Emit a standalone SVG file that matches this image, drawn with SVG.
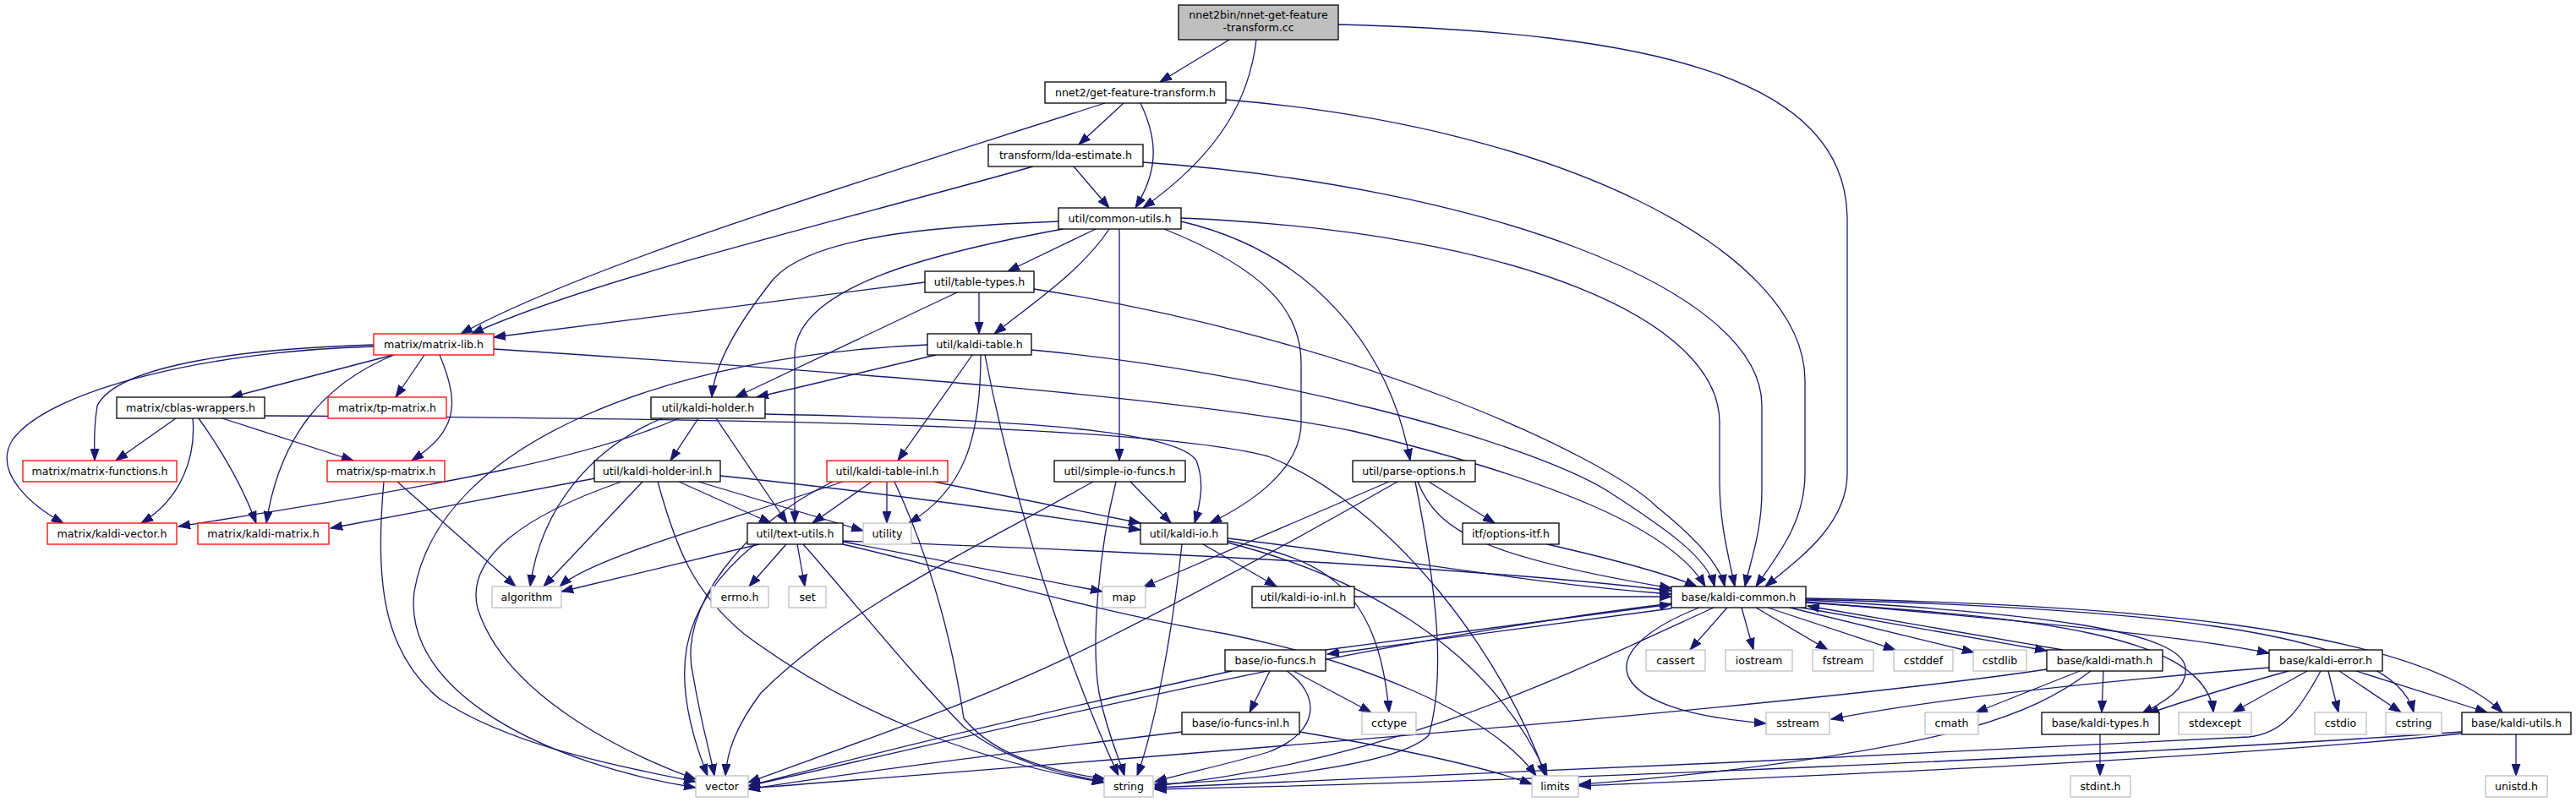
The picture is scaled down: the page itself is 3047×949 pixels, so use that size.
<svg xmlns="http://www.w3.org/2000/svg" width="3047" height="949" viewBox="0 0 3047 949">
<defs>
<style>
.n rect{fill:#fff;stroke:#000;stroke-width:1.3}
.n.r rect{stroke:#f00}
.n.g rect{stroke:#bfbfbf}
text{font-family:"DejaVu Sans","Liberation Sans",sans-serif;font-size:12.6px;text-anchor:middle;fill:#000}
#edges path{fill:none;stroke:#191970;stroke-width:1.3;marker-end:url(#a)}
</style>
<marker id="a" markerWidth="15" markerHeight="11" refX="14" refY="5.5" orient="auto" markerUnits="userSpaceOnUse"><path d="M0,0.5 L14,5.5 L0,10.5 z" fill="#191970" stroke="#191970" stroke-width="1"/></marker>
</defs>
<rect width="3047" height="949" fill="#fff"/>
<g id="edges">
<path d="M1454,47 L1372,97"/>
<path d="M1486,47 C1478,115 1445,180 1352,246"/>
<path d="M1583,29 C1950,38 2185,90 2185,260 L2185,560 C2185,620 2130,660 2088,694"/>
<path d="M1307,122 C1050,205 700,310 545,395"/>
<path d="M1329,122 L1276,171"/>
<path d="M1349,122 C1372,170 1368,205 1343,246"/>
<path d="M1450,118 C1850,150 2135,300 2135,450 L2135,560 C2135,620 2100,660 2077,694"/>
<path d="M1222,197 C1000,260 700,330 558,395"/>
<path d="M1270,197 L1312,246"/>
<path d="M1352,192 C1750,220 2084,340 2084,480 L2084,580 C2084,630 2070,665 2064,694"/>
<path d="M1296,271 L1192,321"/>
<path d="M1312,271 C1280,320 1220,360 1176,395"/>
<path d="M1324,271 L1324,545"/>
<path d="M1377,271 C1500,320 1539,370 1539,430 L1539,500 C1539,560 1470,600 1431,619"/>
<path d="M1397,262 C1560,300 1645,420 1668,545"/>
<path d="M1252,262 C1100,268 960,280 915,330 C875,380 845,430 842,470"/>
<path d="M1257,271 C1100,300 940,340 940,420 L940,619"/>
<path d="M1397,258 C1800,275 2034,380 2034,500 L2034,570 C2034,620 2045,660 2052,694"/>
<path d="M1094,334 L584,399"/>
<path d="M1158,346 L1158,395"/>
<path d="M1132,346 L870,470"/>
<path d="M1223,342 C1600,400 1900,540 1960,600 C2010,640 2035,670 2040,694"/>
<path d="M1107,420 L895,470"/>
<path d="M1150,420 L1062,545"/>
<path d="M1160,420 C1160,520 1140,580 1075,619"/>
<path d="M1165,420 C1200,600 1260,780 1323,918"/>
<path d="M1097,408 C800,420 520,520 490,700 C475,820 650,905 823,932"/>
<path d="M1220,414 C1500,440 1800,520 1900,580 C1970,625 2020,660 2028,694"/>
<path d="M465,420 L273,470"/>
<path d="M502,420 L468,470"/>
<path d="M520,420 C545,480 540,510 487,545"/>
<path d="M442,408 C300,412 140,430 115,480 C110,510 112,530 112,545"/>
<path d="M442,410 C250,415 60,460 15,520 C-10,560 40,600 75,619"/>
<path d="M466,420 C380,455 330,520 315,619"/>
<path d="M584,413 C1000,440 1400,470 1600,510 C1850,570 1980,630 2017,694"/>
<path d="M208,495 L137,545"/>
<path d="M228,495 C232,540 215,590 167,619"/>
<path d="M235,495 C260,530 285,570 303,619"/>
<path d="M263,495 L418,545"/>
<path d="M313,492 C800,495 1350,500 1500,540 C1650,600 1780,780 1828,918"/>
<path d="M470,570 L610,694"/>
<path d="M454,570 C444,680 450,770 520,827 C600,880 720,905 823,925"/>
<path d="M826,495 L793,545"/>
<path d="M847,495 L931,619"/>
<path d="M905,490 C1150,495 1390,505 1415,545 C1425,570 1420,595 1413,619"/>
<path d="M783,495 C700,530 640,600 627,694"/>
<path d="M803,495 C700,540 550,570 211,623"/>
<path d="M704,566 L391,625"/>
<path d="M760,570 L643,694"/>
<path d="M735,570 C620,610 550,660 565,720 C600,830 760,900 823,922"/>
<path d="M778,570 C800,650 820,700 880,750 C1000,840 1150,900 1306,926"/>
<path d="M803,570 L912,619"/>
<path d="M826,570 L1021,628"/>
<path d="M852,563 C1000,578 1200,605 1349,627"/>
<path d="M1049,570 L1049,619"/>
<path d="M1031,570 L961,619"/>
<path d="M997,570 C850,620 700,660 662,694"/>
<path d="M985,570 C880,620 800,720 820,800 C830,860 840,890 845,918"/>
<path d="M1058,570 C1100,660 1125,750 1140,850 C1180,900 1260,915 1308,922"/>
<path d="M1105,570 L1349,619"/>
<path d="M898,644 L664,700"/>
<path d="M930,644 L886,694"/>
<path d="M943,644 L952,694"/>
<path d="M997,641 L1304,700"/>
<path d="M893,644 C800,720 790,800 837,918"/>
<path d="M950,644 C1000,700 1080,800 1140,860 C1190,900 1250,915 1306,925"/>
<path d="M997,644 C1150,680 1300,725 1450,750 C1600,780 1760,840 1817,918"/>
<path d="M997,640 C1400,655 1750,672 1977,699"/>
<path d="M1337,570 L1385,619"/>
<path d="M1293,570 C1150,650 1000,720 900,820 C870,860 860,890 858,918"/>
<path d="M1320,570 C1300,650 1290,760 1300,820 C1310,870 1325,900 1330,918"/>
<path d="M1643,570 L1352,695"/>
<path d="M1653,570 C1530,640 1420,700 1300,760 C1150,835 980,890 885,926"/>
<path d="M1674,570 C1700,700 1710,800 1690,870 C1650,910 1450,925 1366,928"/>
<path d="M1690,570 L1768,619"/>
<path d="M1677,570 C1700,630 1760,660 1977,696"/>
<path d="M1830,644 C1900,660 1970,678 2007,694"/>
<path d="M1423,644 L1510,694"/>
<path d="M1452,637 C1650,660 1800,690 1977,703"/>
<path d="M1398,644 C1390,720 1370,850 1345,918"/>
<path d="M1452,642 C1600,680 1760,760 1830,918"/>
<path d="M1452,640 C1560,660 1630,690 1643,843"/>
<path d="M1602,706 L1977,706"/>
<path d="M2043,719 L1999,769"/>
<path d="M2060,719 L2074,769"/>
<path d="M2077,719 L2162,769"/>
<path d="M2091,719 L2242,769"/>
<path d="M2117,719 L2335,772"/>
<path d="M2125,718 L2421,770"/>
<path d="M2440,769 L2138,717"/>
<path d="M2136,712 C2400,735 2600,755 2684,773"/>
<path d="M1977,720 L1570,774"/>
<path d="M1568,769 L1977,715"/>
<path d="M2136,710 C2400,725 2580,745 2585,790 C2588,815 2560,830 2533,845"/>
<path d="M2136,708 C2500,715 2850,740 2960,843"/>
<path d="M2136,709 C2500,720 2830,740 2855,843"/>
<path d="M2136,713 C2400,730 2610,750 2618,843"/>
<path d="M2010,719 C1880,770 1890,840 2089,856"/>
<path d="M2027,719 C1850,800 1650,900 1366,930"/>
<path d="M1977,714 C1600,760 1200,860 885,930"/>
<path d="M2484,869 L2484,918"/>
<path d="M2976,869 L2976,918"/>
<path d="M2787,794 L2942,843"/>
<path d="M2767,794 L2840,843"/>
<path d="M2754,794 L2766,843"/>
<path d="M2729,794 L2641,843"/>
<path d="M2707,794 C2650,810 2580,830 2540,845"/>
<path d="M2684,790 C2500,805 2300,825 2166,851"/>
<path d="M2745,794 C2720,840 2700,868 2660,872 C2300,890 1700,920 1366,932"/>
<path d="M2460,794 L2337,843"/>
<path d="M2488,794 L2486,843"/>
<path d="M2473,794 C2400,850 2300,880 2040,912 C1950,922 1900,926 1868,928"/>
<path d="M2421,792 C2100,840 1300,900 885,933"/>
<path d="M2912,866 C2500,895 1800,925 1366,934"/>
<path d="M2912,868 C2600,900 2100,920 1868,930"/>
<path d="M1502,794 L1478,843"/>
<path d="M1530,794 L1622,843"/>
<path d="M1522,794 C1560,820 1565,865 1500,890 C1450,905 1400,915 1366,925"/>
<path d="M1457,794 C1200,850 1000,900 885,930"/>
<path d="M1398,866 C1200,890 1000,915 885,934"/>
<path d="M1537,866 C1650,885 1750,905 1812,928"/>
</g>
<g id="n0" class="n"><rect x="1394" y="6" width="189" height="41" style="fill:#bfbfbf"/><text x="1488.5" y="22">nnet2bin/nnet-get-feature</text><text x="1488.5" y="37">-transform.cc</text></g>
<g id="gft" class="n"><rect x="1236" y="97" width="214" height="25"/><text x="1343" y="114">nnet2/get-feature-transform.h</text></g>
<g id="lda" class="n"><rect x="1169" y="171" width="183" height="26"/><text x="1260.5" y="188">transform/lda-estimate.h</text></g>
<g id="cu" class="n"><rect x="1252" y="246" width="145" height="25"/><text x="1324.5" y="263">util/common-utils.h</text></g>
<g id="tt" class="n"><rect x="1094" y="321" width="129" height="25"/><text x="1158.5" y="338">util/table-types.h</text></g>
<g id="kt" class="n"><rect x="1097" y="395" width="123" height="25"/><text x="1158.5" y="412">util/kaldi-table.h</text></g>
<g id="ml" class="n r"><rect x="442" y="395" width="142" height="25"/><text x="513" y="412">matrix/matrix-lib.h</text></g>
<g id="tp" class="n r"><rect x="388" y="470" width="140" height="25"/><text x="458" y="487">matrix/tp-matrix.h</text></g>
<g id="cb" class="n"><rect x="138" y="470" width="175" height="25"/><text x="225.5" y="487">matrix/cblas-wrappers.h</text></g>
<g id="kh" class="n"><rect x="770" y="470" width="135" height="25"/><text x="837.5" y="487">util/kaldi-holder.h</text></g>
<g id="mf" class="n r"><rect x="27" y="545" width="182" height="25"/><text x="118" y="562">matrix/matrix-functions.h</text></g>
<g id="sp" class="n r"><rect x="387" y="545" width="139" height="25"/><text x="456.5" y="562">matrix/sp-matrix.h</text></g>
<g id="khi" class="n"><rect x="703" y="545" width="149" height="25"/><text x="777.5" y="562">util/kaldi-holder-inl.h</text></g>
<g id="kti" class="n r"><rect x="978" y="545" width="143" height="25"/><text x="1049.5" y="562">util/kaldi-table-inl.h</text></g>
<g id="sio" class="n"><rect x="1247" y="545" width="155" height="25"/><text x="1324.5" y="562">util/simple-io-funcs.h</text></g>
<g id="po" class="n"><rect x="1600" y="545" width="145" height="25"/><text x="1672.5" y="562">util/parse-options.h</text></g>
<g id="kv" class="n r"><rect x="56" y="619" width="153" height="25"/><text x="132.5" y="636">matrix/kaldi-vector.h</text></g>
<g id="km" class="n r"><rect x="234" y="619" width="155" height="25"/><text x="311.5" y="636">matrix/kaldi-matrix.h</text></g>
<g id="tu" class="n"><rect x="884" y="619" width="113" height="25"/><text x="940.5" y="636">util/text-utils.h</text></g>
<g id="ut" class="n g"><rect x="1021" y="619" width="57" height="25"/><text x="1049.5" y="636">utility</text></g>
<g id="kio" class="n"><rect x="1349" y="619" width="103" height="25"/><text x="1400.5" y="636">util/kaldi-io.h</text></g>
<g id="itf" class="n"><rect x="1730" y="619" width="114" height="25"/><text x="1787" y="636">itf/options-itf.h</text></g>
<g id="alg" class="n g"><rect x="582" y="694" width="82" height="25"/><text x="623" y="711">algorithm</text></g>
<g id="err" class="n g"><rect x="841" y="694" width="68" height="25"/><text x="875" y="711">errno.h</text></g>
<g id="set" class="n g"><rect x="933" y="694" width="44" height="25"/><text x="955" y="711">set</text></g>
<g id="map" class="n g"><rect x="1304" y="694" width="51" height="25"/><text x="1329.5" y="711">map</text></g>
<g id="kii" class="n"><rect x="1481" y="694" width="121" height="25"/><text x="1541.5" y="711">util/kaldi-io-inl.h</text></g>
<g id="kc" class="n"><rect x="1977" y="694" width="159" height="25"/><text x="2056.5" y="711">base/kaldi-common.h</text></g>
<g id="iof" class="n"><rect x="1449" y="769" width="119" height="25"/><text x="1508.5" y="786">base/io-funcs.h</text></g>
<g id="cas" class="n g"><rect x="1947" y="769" width="70" height="25"/><text x="1982" y="786">cassert</text></g>
<g id="ios" class="n g"><rect x="2041" y="769" width="79" height="25"/><text x="2080.5" y="786">iostream</text></g>
<g id="fst" class="n g"><rect x="2144" y="769" width="72" height="25"/><text x="2180" y="786">fstream</text></g>
<g id="cdf" class="n g"><rect x="2240" y="769" width="70" height="25"/><text x="2275" y="786">cstddef</text></g>
<g id="csl" class="n g"><rect x="2334" y="769" width="63" height="25"/><text x="2365.5" y="786">cstdlib</text></g>
<g id="kmath" class="n"><rect x="2421" y="769" width="137" height="25"/><text x="2489.5" y="786">base/kaldi-math.h</text></g>
<g id="ke" class="n"><rect x="2684" y="769" width="134" height="25"/><text x="2751" y="786">base/kaldi-error.h</text></g>
<g id="iofi" class="n"><rect x="1398" y="843" width="139" height="26"/><text x="1467.5" y="860">base/io-funcs-inl.h</text></g>
<g id="cct" class="n g"><rect x="1611" y="843" width="64" height="26"/><text x="1643" y="860">cctype</text></g>
<g id="sst" class="n g"><rect x="2089" y="843" width="75" height="26"/><text x="2126.5" y="860">sstream</text></g>
<g id="cma" class="n g"><rect x="2277" y="843" width="63" height="26"/><text x="2308.5" y="860">cmath</text></g>
<g id="kty" class="n"><rect x="2415" y="843" width="139" height="26"/><text x="2484.5" y="860">base/kaldi-types.h</text></g>
<g id="ste" class="n g"><rect x="2577" y="843" width="86" height="26"/><text x="2620" y="860">stdexcept</text></g>
<g id="csi" class="n g"><rect x="2738" y="843" width="61" height="26"/><text x="2768.5" y="860">cstdio</text></g>
<g id="cst" class="n g"><rect x="2822" y="843" width="66" height="26"/><text x="2855" y="860">cstring</text></g>
<g id="ku" class="n"><rect x="2912" y="843" width="129" height="26"/><text x="2976.5" y="860">base/kaldi-utils.h</text></g>
<g id="vec" class="n g"><rect x="823" y="918" width="62" height="25"/><text x="854" y="935">vector</text></g>
<g id="str" class="n g"><rect x="1306" y="918" width="58" height="25"/><text x="1335" y="935">string</text></g>
<g id="lim" class="n g"><rect x="1812" y="918" width="55" height="25"/><text x="1839.5" y="935">limits</text></g>
<g id="sti" class="n g"><rect x="2449" y="918" width="71" height="25"/><text x="2484.5" y="935">stdint.h</text></g>
<g id="uni" class="n g"><rect x="2940" y="918" width="73" height="25"/><text x="2976.5" y="935">unistd.h</text></g>
</svg>
